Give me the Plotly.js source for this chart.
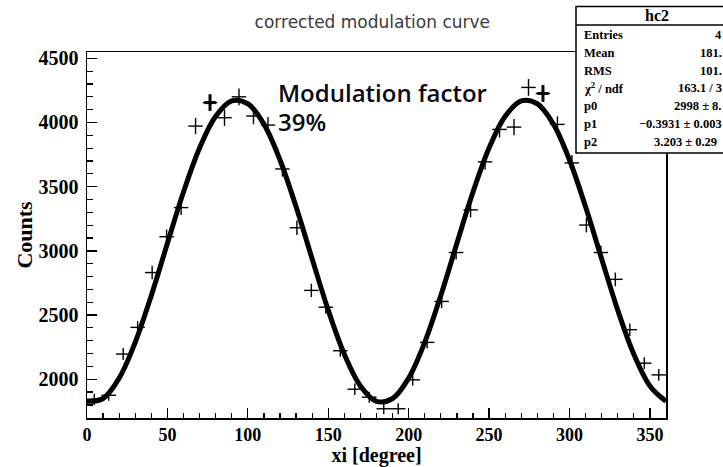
<!DOCTYPE html>
<html>
<head>
<meta charset="utf-8">
<script src="https://cdn.plot.ly/plotly-3.0.1.min.js"></script>
<style>
  html, body { margin: 0; padding: 0; background: #fff; }
  #chart { width: 723px; height: 467px; }
</style>
</head>
<body>
<div id="chart"></div>
<script>
// ---- data ----
const binCenters = [4.5, 13.5, 22.5, 31.5, 40.5, 49.5, 58.5, 67.5, 76.5, 85.5,
                    94.5, 103.5, 112.5, 121.5, 130.5, 139.5, 148.5, 157.5, 166.5, 175.5,
                    184.5, 193.5, 202.5, 211.5, 220.5, 229.5, 238.5, 247.5, 256.5, 265.5,
                    274.5, 283.5, 292.5, 301.5, 310.5, 319.5, 328.5, 337.5, 346.5, 355.5];
const counts = [1843, 1875, 2196, 2404, 2831, 3110, 3337, 3972, 4155, 4037,
                4200, 4050, 3980, 3638, 3180, 2692, 2561, 2222, 1922, 1860,
                1770, 1770, 1995, 2287, 2606, 2987, 3319, 3693, 3946, 3964,
                4273, 4226, 3985, 3685, 3201, 2987, 2778, 2386, 2125, 2034];
const countErrors = [43, 43, 47, 49, 53, 56, 58, 63, 64, 64,
                     65, 64, 63, 60, 56, 52, 51, 47, 44, 43,
                     42, 42, 45, 48, 51, 55, 58, 61, 63, 63,
                     65, 65, 63, 61, 57, 55, 53, 49, 46, 45];
const boldBins = [8, 31];
const binHalfWidth = 4.5;

// fit curve
const fitX = [0, 10, 20, 30, 40, 50, 60, 70, 80, 90, 100, 110, 120, 130, 140, 150, 160, 170, 180,
              190, 200, 210, 220, 230, 240, 250, 260, 270, 280, 290, 300, 310, 320, 330, 340, 350, 360];
const fitY = [1828, 1850, 2009, 2288, 2653, 3059, 3458, 3801, 4048, 4168, 4146, 3987, 3708, 3343, 2937, 2538, 2195, 1948, 1828,
              1850, 2009, 2288, 2653, 3059, 3458, 3801, 4048, 4168, 4146, 3987, 3708, 3343, 2937, 2538, 2195, 1948, 1828];

const chartTitle = "corrected modulation curve";
const xTitle = "xi [degree]";
const yTitle = "Counts";
const annotLine1 = "Modulation factor";
const annotLine2 = "39%";
const statsName = "hc2";
const statsLabels = ["Entries", "Mean", "RMS", "χ<sup>2</sup> / ndf", "p0", "p1", "p2"];
const statsValues = ["4", "181.", "101.", "163.1 / 3", "2998 ± 8.", "−0.3931 ± 0.003", "3.203 ± 0.29"];

// ---- layout helpers ----
const W = 723, H = 467;
const M = {l: 87, r: 57, t: 52, b: 49};
const PW = W - M.l - M.r, PH = H - M.t - M.b;
const px = x => (x - M.l) / PW;
const py = y => (H - M.b - y) / PH;

const serif = "Liberation Serif, Times New Roman, serif";

const traces = [
  {
    x: binCenters, y: counts, type: 'scatter', mode: 'markers',
    marker: {size: 1, color: 'rgba(0,0,0,0)'},
    error_x: {type: 'constant', value: binHalfWidth, width: 0, thickness: 1.4, color: '#000'},
    error_y: {type: 'data', array: countErrors, width: 0, thickness: 1.4, color: '#000'},
    hoverinfo: 'skip', showlegend: false
  },
  {
    x: boldBins.map(i => binCenters[i]), y: boldBins.map(i => counts[i]),
    type: 'scatter', mode: 'markers',
    marker: {size: 1, color: 'rgba(0,0,0,0)'},
    error_x: {type: 'constant', value: binHalfWidth * 0.8, width: 0, thickness: 3, color: '#000'},
    error_y: {type: 'data', array: boldBins.map(i => countErrors[i]), width: 0, thickness: 3, color: '#000'},
    hoverinfo: 'skip', showlegend: false
  },
  {
    x: fitX, y: fitY, type: 'scatter', mode: 'lines',
    line: {color: '#000', width: 5, shape: 'spline', smoothing: 1},
    hoverinfo: 'skip', showlegend: false
  }
];

const annotFont = {family: 'Open Sans, sans-serif', size: 24, color: '#0a0a14', weight: 600};
const statsFont = {family: serif, size: 12.5, color: '#000', weight: 'bold'};
const annotations = [
  {text: annotLine1, xref: 'paper', yref: 'paper', x: px(276), y: py(92), xanchor: 'left', yanchor: 'middle',
   showarrow: false, font: annotFont},
  {text: annotLine2, xref: 'paper', yref: 'paper', x: px(276), y: py(121), xanchor: 'left', yanchor: 'middle',
   showarrow: false, font: annotFont},
  {text: statsName, xref: 'paper', yref: 'paper', x: px(657), y: py(16), xanchor: 'center', yanchor: 'middle',
   showarrow: false, font: {family: serif, size: 16, color: '#000', weight: 'bold'}}
];
const rowY = [35, 53, 70.5, 88, 106, 124, 142];
statsLabels.forEach((lab, i) => {
  annotations.push({text: lab, xref: 'paper', yref: 'paper', x: px(582), y: py(rowY[i]), xanchor: 'left', yanchor: 'middle',
    showarrow: false, font: statsFont});
  annotations.push({text: statsValues[i], xref: 'paper', yref: 'paper', x: px(i === 6 ? 719 : 724), y: py(rowY[i]), xanchor: 'right', yanchor: 'middle',
    showarrow: false, font: statsFont});
});

const shapes = [
  {type: 'rect', xref: 'paper', yref: 'paper', x0: px(576), x1: px(740), y0: py(153), y1: py(6.5),
   line: {color: '#000', width: 1.5}, fillcolor: '#fff', layer: 'above'},
  {type: 'line', xref: 'paper', yref: 'paper', x0: px(576), x1: px(740), y0: py(25), y1: py(25),
   line: {color: '#000', width: 1.5}, layer: 'above'}
];

const layout = {
  width: W, height: H,
  margin: M,
  paper_bgcolor: '#fff', plot_bgcolor: '#fff',
  title: {text: chartTitle, x: 0.515, xanchor: 'center', y: 0.953, yanchor: 'middle',
          font: {family: 'DejaVu Sans, sans-serif', size: 17, color: '#3a3a3a'}},
  xaxis: {
    range: [0, 360], showgrid: false, zeroline: false,
    showline: true, linecolor: '#000', linewidth: 1.5, mirror: true,
    ticks: 'inside', ticklen: 10, tickwidth: 1.3, tickcolor: '#000',
    dtick: 50, tick0: 0,
    minor: {dtick: 10, ticks: 'inside', ticklen: 5, tickwidth: 1.2, tickcolor: '#000', showgrid: false},
    tickfont: {family: serif, size: 18, color: '#000', weight: 'bold'},
    ticklabelstandoff: 0,
    title: {text: xTitle, font: {family: serif, size: 20, color: '#000', weight: 'bold'}, standoff: 6}
  },
  yaxis: {
    range: [1698, 4549], showgrid: false, zeroline: false,
    showline: true, linecolor: '#000', linewidth: 1.5, mirror: true,
    ticks: 'inside', ticklen: 10, tickwidth: 1.3, tickcolor: '#000',
    dtick: 500, tick0: 0,
    minor: {dtick: 100, ticks: 'inside', ticklen: 6, tickwidth: 1.2, tickcolor: '#000', showgrid: false},
    tickfont: {family: serif, size: 20, color: '#000', weight: 'bold'},
    ticklabelstandoff: 3,
    title: {text: yTitle, font: {family: serif, size: 22, color: '#000', weight: 'bold'}, standoff: 0}
  },
  annotations: annotations,
  shapes: shapes
};

Plotly.newPlot('chart', traces, layout, {staticPlot: true, displayModeBar: false});
</script>
</body>
</html>
